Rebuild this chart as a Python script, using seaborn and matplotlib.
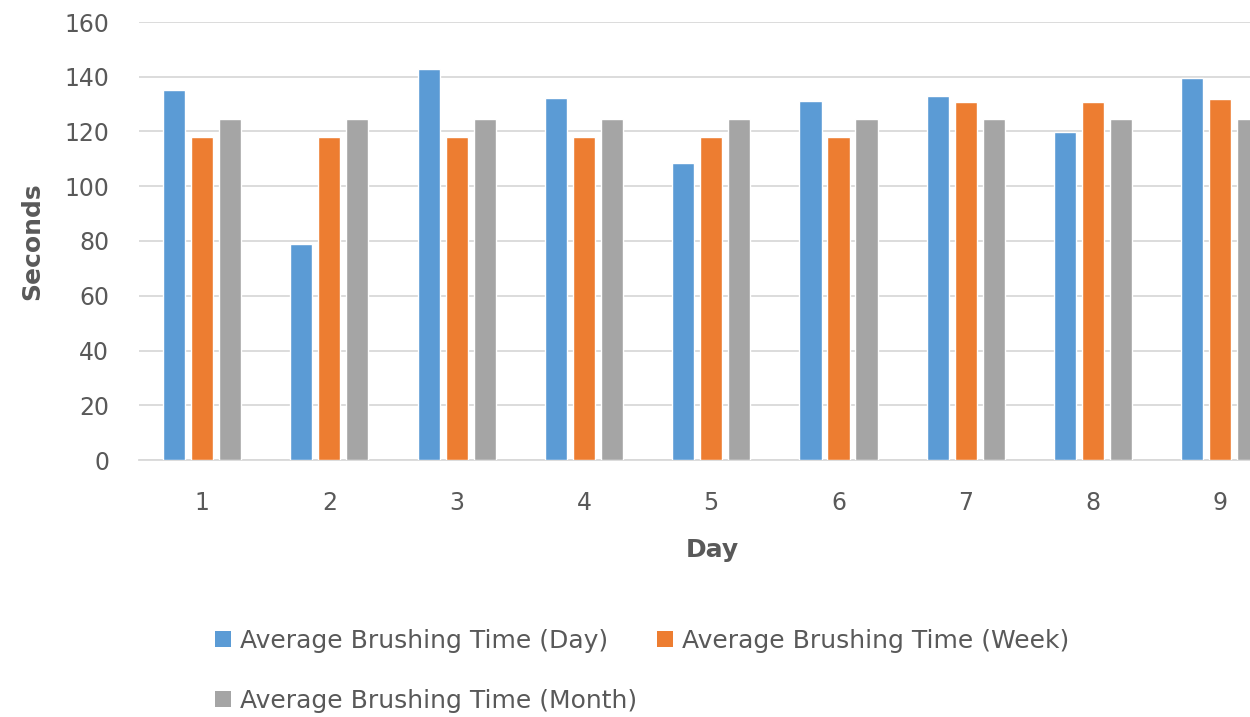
import matplotlib
matplotlib.use("Agg")
import matplotlib.pyplot as plt
import seaborn as sns
import pandas as pd
from matplotlib.patches import Patch

days = ["1", "2", "3", "4", "5", "6", "7", "8", "9"]
avg_day = [135.2, 78.8, 142.7, 132.1, 108.4, 131.3, 133.1, 119.9, 139.4]
avg_week = [117.9, 117.9, 117.9, 117.9, 117.9, 117.9, 130.9, 130.9, 131.7]
avg_month = [124.6, 124.6, 124.6, 124.6, 124.6, 124.6, 124.6, 124.6, 124.6]
series = ["Average Brushing Time (Day)", "Average Brushing Time (Week)", "Average Brushing Time (Month)"]
colors = ["#5B9BD5", "#ED7D31", "#A5A5A5"]
yticks = [0, 20, 40, 60, 80, 100, 120, 140, 160]

rows = []
for s, vals in zip(series, [avg_day, avg_week, avg_month]):
    for d, v in zip(days, vals):
        rows.append({"Day": d, "Seconds": v, "Series": s})
df = pd.DataFrame(rows)

sns.set_theme(style="white")
plt.rcParams["font.family"] = ["DejaVu Sans"]
text_col = "#595959"

fig = plt.figure(figsize=(12.5, 7.17), dpi=100)
ax = fig.add_axes([138.5 / 1250, (717 - 460) / 717, (1284 - 138.5) / 1250, 438 / 717])

sns.barplot(data=df, x="Day", y="Seconds", hue="Series", order=days, hue_order=series,
            palette=colors, width=0.66, gap=0.21, ax=ax, legend=False, saturation=1)

ax.set_xlim(-0.5, 8.5)
ax.set_ylim(0, 160)
ax.set_yticks(yticks)
ax.yaxis.grid(True, color="#D9D9D9", linewidth=1.3)
ax.set_axisbelow(True)
for sp in ["top", "right", "left"]:
    ax.spines[sp].set_visible(False)
ax.spines["bottom"].set_color("#D9D9D9")
ax.spines["bottom"].set_linewidth(1.3)
ax.spines["bottom"].set_zorder(0.5)

ax.tick_params(axis="y", length=0, pad=21, labelsize=17, labelcolor=text_col)
ax.tick_params(axis="x", length=0, pad=22, labelsize=17, labelcolor=text_col)

ax.set_xlabel("Day", fontsize=18, fontweight="bold", color=text_col)
ax.set_ylabel("Seconds", fontsize=18, fontweight="bold", color=text_col)
ax.xaxis.label.set_verticalalignment("center")
ax.xaxis.set_label_coords((712 - 138.5) / 1145.5, -(550 - 460) / 438)
ax.yaxis.label.set_verticalalignment("center")
ax.yaxis.set_label_coords(-(138.5 - 32) / 1145.5, 0.5)

handles = [Patch(facecolor=c, edgecolor="none") for c in colors]
order = [0, 2, 1]
leg = fig.legend([handles[i] for i in order], [series[i] for i in order],
                 ncol=2, loc="upper left", bbox_to_anchor=(215 / 1250, 1 - 629 / 717),
                 frameon=False, fontsize=18, handlelength=0.64, handleheight=0.64,
                 handletextpad=0.36, columnspacing=0.8, labelspacing=1.44,
                 borderaxespad=0, borderpad=0)
for t in leg.get_texts():
    t.set_color(text_col)

fig.savefig("out.png", dpi=100)
